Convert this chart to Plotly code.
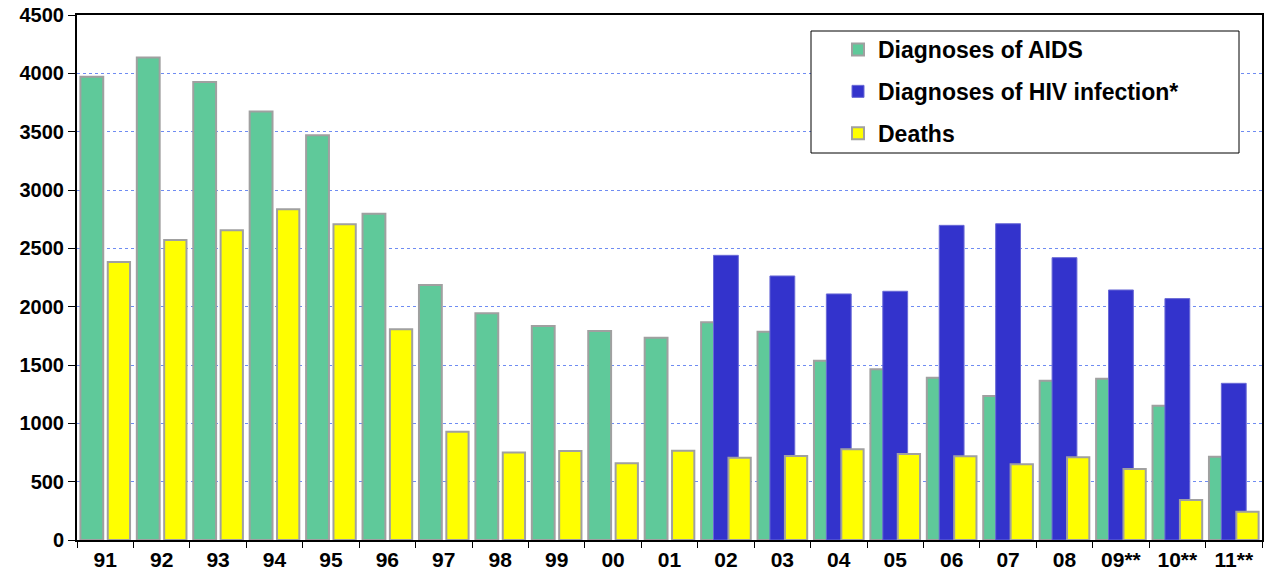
import plotly.graph_objects as go

years = ["91", "92", "93", "94", "95", "96", "97", "98", "99", "00", "01",
         "02", "03", "04", "05", "06", "07", "08", "09**", "10**", "11**"]
aids = [3970, 4135, 3925, 3672, 3470, 2797, 2186, 1943, 1834, 1791, 1734,
        1866, 1785, 1537, 1463, 1391, 1234, 1366, 1383, 1151, 714]
hiv = [None, None, None, None, None, None, None, None, None, None, None,
       2440, 2263, 2109, 2132, 2697, 2711, 2420, 2143, 2069, 1343]
deaths = [2383, 2571, 2655, 2834, 2707, 1806, 928, 751, 763, 657, 766,
          706, 721, 777, 737, 717, 649, 709, 609, 343, 243]

FONT = "Arial, 'Liberation Sans', sans-serif"
GREY = "#A0A0A0"

fig = go.Figure()
fig.add_trace(go.Bar(
    x=years, y=aids, name="Diagnoses of AIDS", legendgroup="a",
    marker=dict(color="#5FC99A", line=dict(color=GREY, width=2)),
    offset=-0.44, width=0.405,
))
fig.add_trace(go.Bar(
    x=years, y=hiv, name="Diagnoses of HIV infection*", legendgroup="b",
    marker=dict(color="#3333CC", line=dict(color="#6A6AD6", width=1)),
    offset=-0.22, width=0.44,
))
fig.add_trace(go.Bar(
    x=years, y=deaths, name="Deaths", legendgroup="c",
    marker=dict(color="#FFFF00", line=dict(color=GREY, width=2)),
    offset=0.045, width=0.395,
))

# legend frame
fig.add_shape(type="rect", xref="paper", yref="paper",
              x0=(811 - 77) / 1185, x1=(1239 - 77) / 1185,
              y0=(540 - 153) / 525, y1=(540 - 31) / 525,
              line=dict(color="black", width=1), fillcolor="white",
              layer="above")

fig.update_layout(
    width=1270, height=579,
    margin=dict(l=77, r=8, t=15, b=39, autoexpand=False),
    paper_bgcolor="white", plot_bgcolor="white",
    barmode="overlay",
    showlegend=True,
    font=dict(family=FONT, color="black"),
    legend=dict(
        x=(838 - 77) / 1185, y=(540 - 28) / 525, xanchor="left", yanchor="top",
        bgcolor="rgba(0,0,0,0)", borderwidth=0,
        font=dict(family=FONT, size=23, color="black", weight="bold"),
        traceorder="grouped", tracegroupgap=9,
    ),
    xaxis=dict(
        type="category", range=[-0.5, 20.5], automargin=False,
        showline=True, linecolor="black", linewidth=2, mirror=True,
        ticks="outside", tickson="boundaries", ticklen=6, tickcolor="black",
        tickfont=dict(family=FONT, size=21, color="black", weight="bold"),
        showgrid=False,
    ),
    yaxis=dict(
        range=[0, 4500], dtick=500, tick0=0, automargin=False,
        showline=True, linecolor="black", linewidth=2, mirror=True,
        ticks="outside", ticklen=7, tickcolor="black",
        tickfont=dict(family=FONT, size=20, color="black", weight="bold"),
        showgrid=True, gridcolor="#6F8CF2", gridwidth=1, griddash="dot",
        zeroline=False,
    ),
)

fig.write_html("out.html",
               config={"displayModeBar": False},
               post_script="document.body.style.margin='0';"
                           "document.body.style.overflow='hidden';")
